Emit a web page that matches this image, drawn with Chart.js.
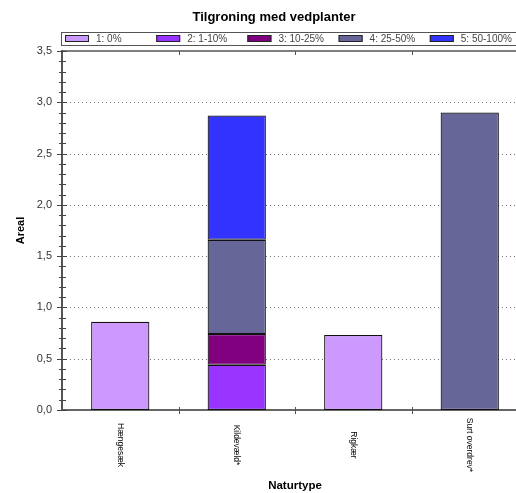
<!DOCTYPE html>
<html>
<head>
<meta charset="utf-8">
<script src="https://cdn.jsdelivr.net/npm/chart.js@4/dist/chart.umd.min.js"></script>
<style>
html,body{margin:0;padding:0;overflow:hidden;background:#fff;width:516px;height:493px;}
#wrap{width:548px;height:493px;}
</style>
</head>
<body>
<div id="wrap"><canvas id="c" width="548" height="493"></canvas></div>
<script>
const chartTitle = "Tilgroning med vedplanter";
const categories = ["Hængesæk", "Kildevæld*", "Rigkær", "Surt overdrev*"];
const seriesLabels = ["1: 0%", "2: 1-10%", "3: 10-25%", "4: 25-50%", "5: 50-100%"];
const s1 = [0.86, null, 0.73, null];
const s2 = [null, 0.44, null, null];
const s3 = [null, 0.30, null, null];
const s4 = [null, 0.92, null, 2.90];
const s5 = [null, 1.21, null, null];
const yTickValues = [0, 0.5, 1.0, 1.5, 2.0, 2.5, 3.0, 3.5];
const yTitle = "Areal";
const xTitle = "Naturtype";

const seriesData = [s1, s2, s3, s4, s5];
const colors = ["#cc99ff", "#9933ff", "#800080", "#666699", "#3333ff"];
const FONT = "'Liberation Sans', Arial, sans-serif";

const decor = {
  id: 'decor',
  beforeDatasetsDraw(chart) {
    const ctx = chart.ctx, y = chart.scales.y, a = chart.chartArea;
    ctx.save();
    ctx.strokeStyle = '#777';
    ctx.lineWidth = 1;
    ctx.setLineDash([1, 3]);
    yTickValues.forEach(v => {
      if (v === 0 || v === 3.5) return;
      const py = Math.round(y.getPixelForValue(v)) + 0.5;
      ctx.beginPath();
      ctx.moveTo(a.left + 4, py);
      ctx.lineTo(a.right, py);
      ctx.stroke();
    });
    ctx.restore();
  },
  afterDraw(chart) {
    const ctx = chart.ctx, x = chart.scales.x, y = chart.scales.y, a = chart.chartArea;
    ctx.save();
    // title
    ctx.fillStyle = '#000';
    ctx.font = "bold 13px " + FONT;
    ctx.textAlign = 'center';
    ctx.textBaseline = 'middle';
    ctx.fillText(chartTitle, chart.width / 2, 17);
    // top border
    ctx.strokeStyle = '#555';
    ctx.lineWidth = 1.5;
    ctx.beginPath();
    ctx.moveTo(a.left, a.top);
    ctx.lineTo(chart.width, a.top);
    ctx.stroke();
    // category boundary ticks (top and bottom)
    ctx.lineWidth = 1;
    for (let i = 0; i < categories.length - 1; i++) {
      const bx = Math.round((x.getPixelForValue(i) + x.getPixelForValue(i + 1)) / 2) + 0.5;
      ctx.beginPath();
      ctx.moveTo(bx, a.bottom - 3); ctx.lineTo(bx, a.bottom + 4);
      ctx.moveTo(bx, a.top); ctx.lineTo(bx, a.top + 4);
      ctx.stroke();
    }
    // y ticks major & minor
    ctx.strokeStyle = '#444';
    for (let k = 0; k <= 35; k++) {
      const v = k / 10;
      const py = Math.round(y.getPixelForValue(v)) + 0.5;
      ctx.beginPath();
      if (k % 5 === 0) { ctx.moveTo(a.left - 5, py); ctx.lineTo(a.left + 5, py); }
      else { ctx.moveTo(a.left - 3, py); ctx.lineTo(a.left + 4, py); }
      ctx.stroke();
    }
    // x labels rotated clockwise
    ctx.fillStyle = '#000';
    ctx.font = "8.5px " + FONT;
    ctx.textAlign = 'center';
    ctx.textBaseline = 'middle';
    categories.forEach((c, i) => {
      const px = x.getPixelForValue(i);
      ctx.save();
      ctx.translate(px, 445);
      ctx.rotate(Math.PI / 2);
      ctx.fillText(c, 0, 0);
      ctx.restore();
    });
    // legend box
    ctx.strokeStyle = '#555';
    ctx.lineWidth = 1;
    ctx.strokeRect(61.5, 32.5, chart.width, 13);
    ctx.font = "10px " + FONT;
    ctx.textAlign = 'left';
    ctx.textBaseline = 'middle';
    seriesLabels.forEach((lab, i) => {
      const lx = 65 + i * 91.2;
      ctx.fillStyle = colors[i];
      ctx.fillRect(lx, 35, 24, 7);
      ctx.strokeStyle = '#222';
      ctx.strokeRect(lx + 0.5, 35.5, 23, 6);
      ctx.fillStyle = '#444';
      ctx.fillText(lab, lx + 31, 39);
    });
    ctx.restore();
  }
};

new Chart(document.getElementById('c'), {
  type: 'bar',
  data: {
    labels: categories,
    datasets: seriesData.map((d, i) => ({
      label: seriesLabels[i],
      data: d,
      backgroundColor: colors[i],
      borderColor: '#111',
      borderWidth: 1.2,
      borderSkipped: false,
      barPercentage: 0.5,
      categoryPercentage: 1.0
    }))
  },
  options: {
    responsive: false,
    animation: false,
    layout: { padding: { top: 51, right: 20, left: 0, bottom: 0 } },
    plugins: { legend: { display: false }, title: { display: false }, tooltip: { enabled: false } },
    scales: {
      x: {
        stacked: true,
        grid: { display: false },
        border: { display: true, color: '#666', width: 2 },
        ticks: { display: false },
        title: { display: true, text: xTitle, color: '#000', font: { family: FONT, size: 11.5, weight: 'bold' }, padding: { top: 0, bottom: 0 } },
        afterFit(s) { s.height = 83; }
      },
      y: {
        stacked: true,
        min: 0, max: 3.5,
        afterBuildTicks(s) { s.ticks = yTickValues.map(v => ({ value: v })); },
        ticks: {
          padding: 10,
          color: '#333',
          font: { family: FONT, size: 11 },
          callback: v => Number(v).toFixed(1).replace('.', ',')
        },
        grid: { display: false, drawTicks: false },
        border: { display: true, color: '#555', width: 2 },
        title: { display: true, text: yTitle, color: '#000', font: { family: FONT, size: 11, weight: 'bold' }, padding: { top: 14, bottom: 0 } },
        afterFit(s) { s.width = 62; }
      }
    }
  },
  plugins: [decor]
});
</script>
</body>
</html>
